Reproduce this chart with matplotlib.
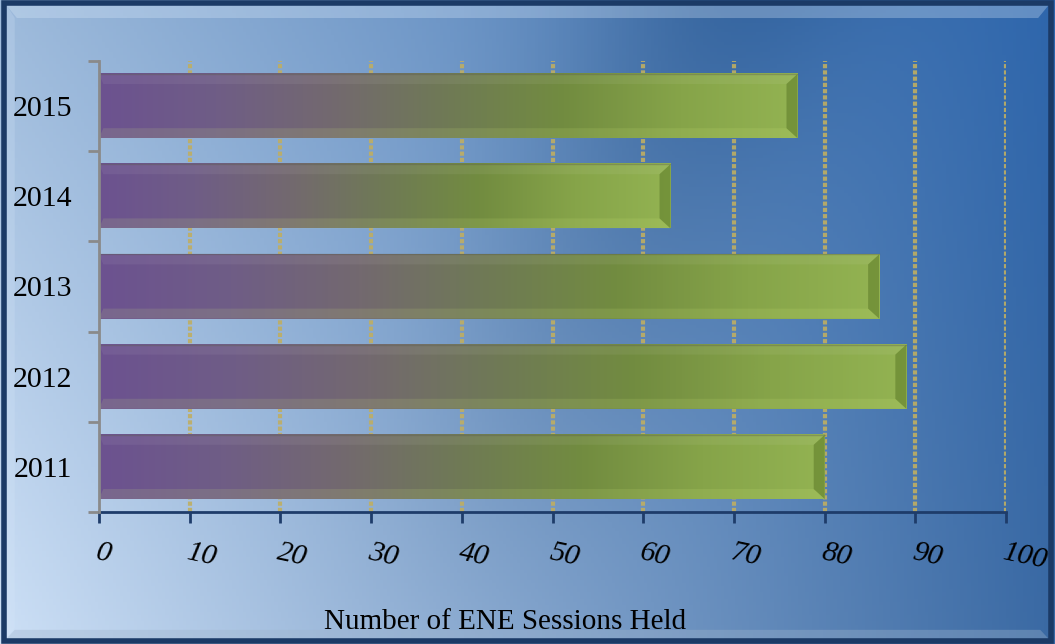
import matplotlib
matplotlib.use("Agg")
import matplotlib.pyplot as plt
import numpy as np
from matplotlib.colors import LinearSegmentedColormap
from matplotlib.patches import Polygon, Rectangle

# sessions held per year
years = ["2011", "2012", "2013", "2014", "2015"]
sessions = [80, 89, 86, 63, 77]
xticks = [0, 10, 20, 30, 40, 50, 60, 70, 80, 90, 100]

plt.rcParams['font.family'] = ['Liberation Serif', 'DejaVu Serif']

fig = plt.figure(figsize=(10.55, 6.44), dpi=100)

# background: light blue in the lower left, deep blue towards the upper right
bg = fig.add_axes([0, 0, 1, 1], zorder=-5)
bg.axis('off')
nx, ny = 300, 200
u = np.linspace(0, 1, nx)[None, :]
v = np.linspace(0, 1, ny)[:, None]  # 0 = top
tl = np.array([0x9d, 0xba, 0xdb]) / 255
bl = np.array([0xcd, 0xe0, 0xf6]) / 255
tr = np.array([0x2e, 0x66, 0xac]) / 255
br = np.array([0x3a, 0x69, 0xa3]) / 255
img = ((1 - u)[..., None] * ((1 - v)[..., None] * tl + v[..., None] * bl)
       + u[..., None] * ((1 - v)[..., None] * tr + v[..., None] * br))
# darker diagonal band near the top middle
band = np.exp(-((u - 0.68 + 0.25 * v) ** 2) / 0.02)[..., None] * (1 - v[..., None]) * 0.10
img = np.clip(img - band, 0, 1)
bg.imshow(img, extent=(0, 1, 0, 1), aspect='auto', origin='upper')
bg.set_xlim(0, 1)
bg.set_ylim(0, 1)
# frame: bevel highlight on top and left, dark outer border
bg.add_patch(Polygon([(0.006, 0.992), (0.994, 0.992), (0.984, 0.972), (0.016, 0.972)],
                     closed=True, fc='#dcebfb', alpha=0.3, lw=0))
bg.add_patch(Polygon([(0.006, 0.008), (0.006, 0.992), (0.014, 0.972), (0.014, 0.025)],
                     closed=True, fc='#dcebfb', alpha=0.2, lw=0))
bg.add_patch(Polygon([(0.006, 0.008), (0.994, 0.008), (0.986, 0.022), (0.014, 0.022)],
                     closed=True, fc='#9fb4cc', alpha=0.35, lw=0))
bg.add_patch(Rectangle((0.004, 0.004), 0.992, 0.992, transform=bg.transAxes,
                       fill=False, ec='#1b3a66', lw=4))

ax = fig.add_axes([99 / 1055, 1 - 512 / 644, 907 / 1055, 451 / 644])
ax.patch.set_alpha(0)

ypos = np.arange(len(years))
h = 0.71
bar_cmap = LinearSegmentedColormap.from_list(
    'bar', ['#6c5290', '#6f5d86', '#73696f', '#6f7a55', '#728c40', '#86a449', '#93b352'])
grad = np.linspace(0, 1, 256)[None, :]
bx = 1.2   # bevel depth along x (data units)
by = 0.11  # bevel depth along y
for y, val in zip(ypos, sessions):
    y0, y1 = y - h / 2, y + h / 2
    ax.imshow(grad, cmap=bar_cmap, extent=(0, val, y0, y1), aspect='auto',
              zorder=3, interpolation='bicubic')
    # top and bottom bevel highlights
    ax.add_patch(Polygon([(0, y1), (val, y1), (val - bx, y1 - by), (bx * 0.4, y1 - by)],
                         closed=True, fc='white', alpha=0.06, lw=0, zorder=4))
    ax.add_patch(Polygon([(0, y0), (val, y0), (val - bx, y0 + by), (bx * 0.4, y0 + by)],
                         closed=True, fc='#d8f080', alpha=0.13, lw=0, zorder=4))
    # darker right end
    ax.add_patch(Polygon([(val, y0), (val, y1), (val - bx, y1 - by), (val - bx, y0 + by)],
                         closed=True, fc='#3d5a10', alpha=0.35, lw=0, zorder=4))
    ax.plot([0, val], [y1, y1], color='#5a5a4a', lw=1, alpha=0.35, zorder=5)

ax.set_xlim(0, 100)
ax.set_ylim(-0.5, len(years) - 0.5)

# dotted gridlines
for t in xticks[1:]:
    ax.axvline(t, color='#bfae62', lw=3, ls=(0, (1, 0.5)), zorder=1, alpha=0.9)

for s in ['top', 'right']:
    ax.spines[s].set_visible(False)
ax.spines['bottom'].set_color('#1e3c6a')
ax.spines['bottom'].set_linewidth(2)
ax.spines['left'].set_color('#8a8a8a')
ax.spines['left'].set_linewidth(2)
ax.spines['left'].set_zorder(6)

ax.set_xticks(xticks)
ax.set_xticklabels([str(t) for t in xticks], fontsize=21.5, style='italic',
                   rotation=-12, ha='left', va='top', rotation_mode='anchor')
ax.tick_params(axis='x', direction='out', length=8, width=2, color='#1e3c6a', pad=12)

ax.set_yticks(ypos)
ax.set_yticklabels(years, fontsize=21.5)
ax.tick_params(axis='y', which='major', direction='in', length=5, width=2,
               color='#8a8a8a', pad=19)
ax.set_yticks(np.arange(-0.5, len(years), 1), minor=True)
ax.tick_params(axis='y', which='minor', direction='out', length=8, width=2,
               color='#8a8a8a')

ax.set_xlabel('Number of ENE Sessions Held', fontsize=21)
ax.xaxis.set_label_coords(0.448, -0.215)

fig.savefig('out.png', dpi=100)
